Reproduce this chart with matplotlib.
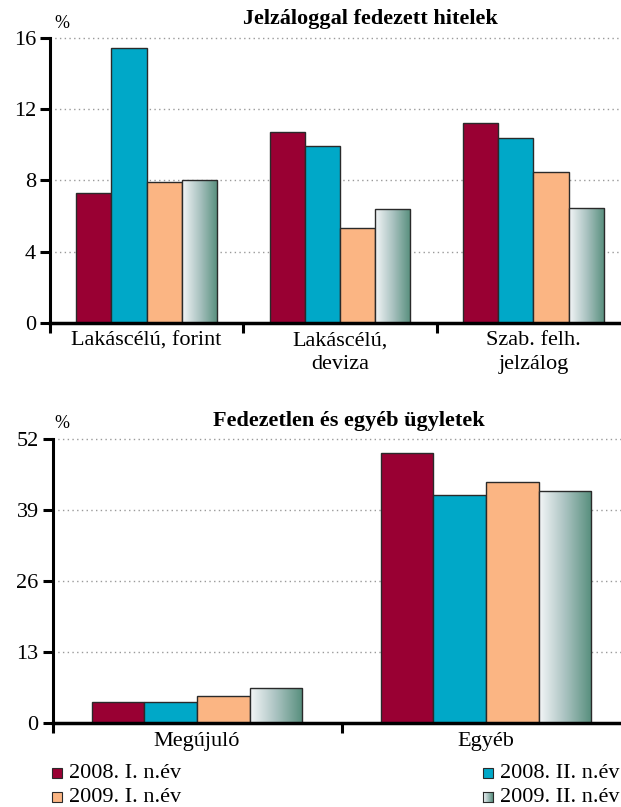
import numpy as np
import matplotlib
matplotlib.use("Agg")
import matplotlib.pyplot as plt
from matplotlib.colors import LinearSegmentedColormap
from matplotlib.patches import Rectangle

plt.rcParams['font.family'] = ['Liberation Serif', 'DejaVu Serif']

# Series (half-years)
series = ["2008. I. n.év", "2008. II. n.év", "2009. I. n.év", "2009. II. n.év"]
solid_colors = ["#990033", "#00a8c8", "#fbb583"]
grad_cmap = LinearSegmentedColormap.from_list("grad", ["#f4f6f8", "#a9c2c0", "#568e7c"])

# Mortgage-backed loans
mort_cats = ["Lakáscélú, forint", "Lakáscélú,\ndeviza", "Szab. felh.\njelzálog"]
mort_2008_1 = [7.3, 10.7, 11.2]
mort_2008_2 = [15.45, 9.9, 10.4]
mort_2009_1 = [7.9, 5.35, 8.45]
mort_2009_2 = [8.0, 6.4, 6.45]
mort_ticks = [0, 4, 8, 12, 16]

# Unsecured and other transactions
unsec_cats = ["Megújuló", "Egyéb"]
unsec_2008_1 = [3.95, 49.4]
unsec_2008_2 = [3.85, 41.8]
unsec_2009_1 = [4.95, 44.1]
unsec_2009_2 = [6.45, 42.4]
unsec_ticks = [0, 13, 26, 39, 52]

W, H = 621, 807
fig = plt.figure(figsize=(W / 100, H / 100), dpi=100)

BAR_W = 0.182
TXT = 16
LEG_TXT = 16


def draw_panel(ax, cats, data, ticks, title, title_x, title_y, pct_y):
    n = len(cats)
    x = np.arange(n)
    for k, vals in enumerate(data):
        pos = x + (k - 1.5) * BAR_W
        if k < 3:
            ax.bar(pos, vals, width=BAR_W, color=solid_colors[k],
                   edgecolor="#2a2a2a", linewidth=1.0, zorder=3)
        else:
            bars = ax.bar(pos, vals, width=BAR_W, facecolor="none",
                          edgecolor="#2a2a2a", linewidth=1.0, zorder=4)
            grad = np.linspace(0, 1, 256).reshape(1, -1)
            for b in bars:
                x0, y0 = b.get_x(), b.get_y()
                im = ax.imshow(grad, cmap=grad_cmap, aspect="auto",
                               extent=[x0, x0 + b.get_width(), y0, y0 + b.get_height()],
                               zorder=3, interpolation="bilinear")
                im.set_clip_path(b)
    ax.set_xlim(-0.5, n - 0.5)
    ax.set_ylim(ticks[0], ticks[-1])
    ax.set_yticks(ticks)
    ax.set_yticklabels([str(t) for t in ticks], fontsize=TXT)
    for t in ticks[1:]:
        ax.axhline(t, color="#9a9a9a", lw=1.0, ls=(0, (1.0, 2.4)), zorder=1, clip_on=False)
    # separators between categories
    ax.set_xticks(np.arange(n + 1) - 0.5)
    ax.set_xticklabels([])
    ax.set_xticks(x, minor=True)
    ax.set_xticklabels(cats, minor=True, fontsize=TXT, linespacing=1.3)
    ax.tick_params(axis="x", which="minor", length=0, pad=6)
    ax.tick_params(axis="x", which="major", length=7, width=2.2, direction="out")
    ax.tick_params(axis="y", length=7, width=2.2, direction="out", pad=3)
    for s in ("top", "right"):
        ax.spines[s].set_visible(False)
    ax.spines["left"].set_linewidth(2.2)
    ax.spines["bottom"].set_linewidth(2.5)
    ax.spines["bottom"].set_zorder(6)
    ax.set_facecolor("none")
    fig.text(title_x / W, 1 - title_y / H, title, ha="center", va="center",
             fontsize=16, fontweight="bold")
    fig.text(62 / W, 1 - pct_y / H, "%", ha="center", va="center", fontsize=13)


ax1 = fig.add_axes([50 / W, 1 - 323 / H, 580 / W, (323 - 37.7) / H])
draw_panel(ax1, mort_cats, [mort_2008_1, mort_2008_2, mort_2009_1, mort_2009_2],
           mort_ticks, "Jelzáloggal fedezett hitelek", 370, 19, 23)

ax2 = fig.add_axes([52.5 / W, 1 - 723.3 / H, 578 / W, (723.3 - 439) / H])
draw_panel(ax2, unsec_cats, [unsec_2008_1, unsec_2008_2, unsec_2009_1, unsec_2009_2],
           unsec_ticks, "Fedezetlen és egyéb ügyletek", 349, 421, 423)

# Legend
leg_pos = [(52, 773), (483, 773), (52, 797), (483, 797)]
for k, (lx, ly) in enumerate(leg_pos):
    sq = 10
    if k < 3:
        fig.patches.append(Rectangle((lx / W, 1 - (ly + sq / 2) / H), sq / W, sq / H,
                                     transform=fig.transFigure, facecolor=solid_colors[k],
                                     edgecolor="#2a2a2a", linewidth=0.8))
    else:
        lax = fig.add_axes([lx / W, 1 - (ly + sq / 2) / H, sq / W, sq / H])
        lax.imshow(np.linspace(0, 1, 64).reshape(1, -1), cmap=grad_cmap, aspect="auto")
        lax.set_xticks([])
        lax.set_yticks([])
        for s in lax.spines.values():
            s.set_linewidth(0.8)
            s.set_color("#2a2a2a")
    fig.text((lx + 17) / W, 1 - ly / H, series[k], ha="left", va="center", fontsize=LEG_TXT)

fig.savefig("out.png", dpi=100)
